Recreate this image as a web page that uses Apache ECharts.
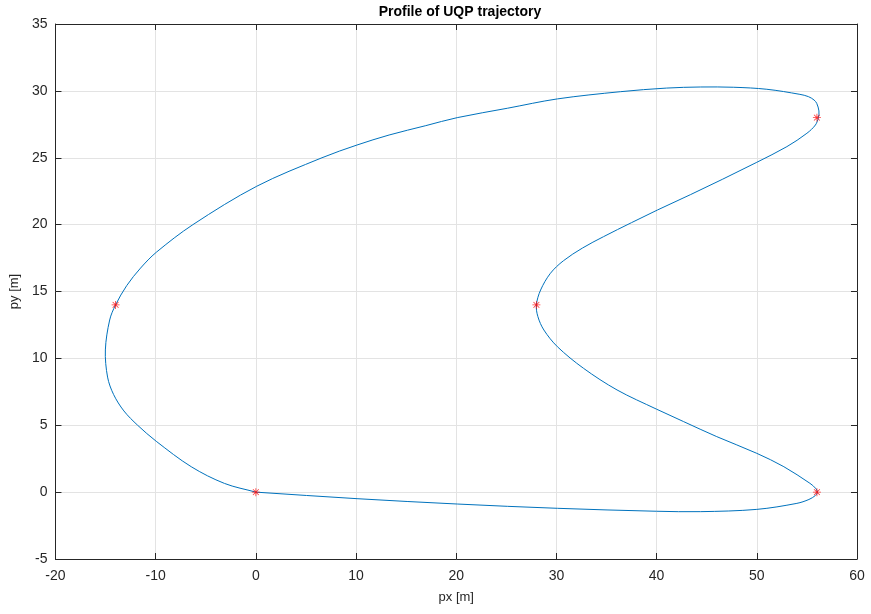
<!DOCTYPE html>
<html>
<head>
<meta charset="utf-8">
<script src="https://cdn.jsdelivr.net/npm/echarts@6/dist/echarts.min.js"></script>
<style>
  html, body { margin: 0; padding: 0; background: #ffffff; }
  #chart { width: 871px; height: 614px; }
</style>
</head>
<body>
<div id="chart"></div>
<script>
// Trajectory samples [px, py] in metres, in travel order
const trajectoryX = [
  0, 10.1, 20.1, 30.1, 40.0, 44.4, 50.0, 54.0, 55.2, 55.85, 56.05,
  55.85, 55.3, 52.7, 50.0, 46.0, 42.7, 40.0, 36.05, 32.7, 30.1, 28.75, 28.15, 28.0,
  28.42, 29.4, 30.7, 32.6, 34.7, 37.5, 40.1, 43.4, 46.6, 50.0, 53.0, 55.0, 55.85, 56.15,
  56.2, 55.98, 55.71, 55.15, 54.3, 51.0, 47.7, 44.4, 41.0, 36.4, 30.1, 25.1, 20.1, 16.96, 13.3, 10.09, 6.6, 0.09, -6.28, -9.94, -11.51, -12.89, -14.0,
  -14.59, -15.02, -14.8, -14.2, -13.17, -11.8, -9.94, -6.45, -3.13, 0
];
const trajectoryY = [
  0, -0.49, -0.89, -1.21, -1.43, -1.46, -1.29, -0.84, -0.55, -0.25, 0,
  0.3, 0.66, 1.9, 2.9, 4.15, 5.27, 6.2, 7.64, 9.26, 10.87, 12.12, 13.12, 14.0,
  15.11, 16.36, 17.3, 18.25, 19.1, 20.15, 21.1, 22.25, 23.4, 24.66, 25.83, 26.83, 27.45, 28.0,
  28.5, 29.07, 29.32, 29.57, 29.74, 30.12, 30.27, 30.29, 30.21, 29.94, 29.4, 28.7, 28.0, 27.4, 26.7, 25.95, 25.0, 22.87, 20.0, 17.93, 16.75, 15.44, 14.0,
  12.87, 10.63, 8.6, 7.3, 6.07, 5.0, 3.8, 1.9, 0.65, 0
];

// Waypoints marked along the trajectory
const waypointX = [0, 56, 28, 56, -14];
const waypointY = [0, 0, 14, 28, 14];

// Axis ranges
const xMin = -20, xMax = 60, xStep = 10;
const yMin = -5, yMax = 35, yStep = 5;

const trajectory = trajectoryX.map((x, i) => [x, trajectoryY[i]]);
const waypoints = waypointX.map((x, i) => [x, waypointY[i]]);

// Asterisk marker built from four thin bars
const asterisk = 'path://M-1,-10L1,-10L1,10L-1,10Z' +
  'M-10,-1L10,-1L10,1L-10,1Z' +
  'M-8,-6.6L-6.6,-8L8,6.6L6.6,8Z' +
  'M6.6,-8L8,-6.6L-6.6,8L-8,6.6Z';

const font = '"Liberation Sans", Arial, Helvetica, sans-serif';
const axisColor = '#262626';
const gridColor = '#e3e3e3';
const lineColor = '#0072BD';

function dist(a, b) {
  return Math.hypot(b[0] - a[0], b[1] - a[1]);
}

// Each sample i draws the smooth piece from sample i to sample i+1,
// with tangents taken from the neighbouring samples in pixel space.
function renderTrajectoryPiece(params, api) {
  const i = params.dataIndex;
  const n = trajectory.length;
  if (i >= n - 1) return null;
  const p0 = api.coord(trajectory[Math.max(i - 1, 0)]);
  const p1 = api.coord(trajectory[i]);
  const p2 = api.coord(trajectory[i + 1]);
  const p3 = api.coord(trajectory[Math.min(i + 2, n - 1)]);
  const d01 = dist(p0, p1), d12 = dist(p1, p2), d23 = dist(p2, p3);
  const k1 = d12 / (3 * (d01 + d12));
  const k2 = d12 / (3 * (d12 + d23));
  return {
    type: 'bezierCurve',
    shape: {
      x1: p1[0], y1: p1[1],
      x2: p2[0], y2: p2[1],
      cpx1: p1[0] + (p2[0] - p0[0]) * k1,
      cpy1: p1[1] + (p2[1] - p0[1]) * k1,
      cpx2: p2[0] - (p3[0] - p1[0]) * k2,
      cpy2: p2[1] - (p3[1] - p1[1]) * k2
    },
    style: { stroke: lineColor, fill: null, lineWidth: 1 }
  };
}

const baseAxis = {
  axisLine: { show: true, onZero: false, lineStyle: { color: axisColor, width: 1 } },
  axisTick: { show: true, inside: true, length: 6, lineStyle: { color: axisColor, width: 1 } },
  splitLine: { show: false }
};

const chart = echarts.init(document.getElementById('chart'), null, { renderer: 'canvas' });
chart.setOption({
  animation: false,
  backgroundColor: '#ffffff',
  title: {
    text: 'Profile of UQP trajectory',
    left: 455, top: 0, textAlign: 'center',
    textStyle: { fontFamily: font, fontSize: 14, fontWeight: 'bold', color: '#000000' }
  },
  grid: { left: 54, right: 14, top: 24, bottom: 55, containLabel: false },
  xAxis: [
    Object.assign({}, baseAxis, {
      type: 'value', min: xMin, max: xMax, interval: xStep, position: 'bottom',
      name: 'px [m]', nameLocation: 'middle', nameGap: 32,
      nameTextStyle: { fontFamily: font, fontSize: 13, color: axisColor },
      axisLabel: { fontFamily: font, fontSize: 14, color: axisColor, margin: 10 },
      splitLine: { show: true, lineStyle: { color: gridColor, width: 1 } }
    }),
    Object.assign({}, baseAxis, {
      type: 'value', min: xMin, max: xMax, interval: xStep, position: 'top',
      axisLabel: { show: false }
    })
  ],
  yAxis: [
    Object.assign({}, baseAxis, {
      type: 'value', min: yMin, max: yMax, interval: yStep, position: 'left',
      name: 'py [m]', nameLocation: 'middle', nameGap: 27,
      nameTextStyle: { fontFamily: font, fontSize: 13, color: axisColor },
      axisLabel: { fontFamily: font, fontSize: 14, color: axisColor, margin: 8 },
      splitLine: { show: true, lineStyle: { color: gridColor, width: 1 } }
    }),
    Object.assign({}, baseAxis, {
      type: 'value', min: yMin, max: yMax, interval: yStep, position: 'right',
      axisLabel: { show: false }
    })
  ],
  series: [
    {
      type: 'custom',
      data: trajectory,
      xAxisIndex: 0, yAxisIndex: 0,
      encode: { x: 0, y: 1 },
      renderItem: renderTrajectoryPiece,
      clip: true,
      silent: true,
      z: 3
    },
    {
      type: 'scatter',
      data: waypoints,
      xAxisIndex: 0, yAxisIndex: 0,
      symbol: asterisk,
      symbolSize: 8,
      itemStyle: { color: '#ff0000' },
      z: 4
    }
  ]
});
</script>
</body>
</html>
